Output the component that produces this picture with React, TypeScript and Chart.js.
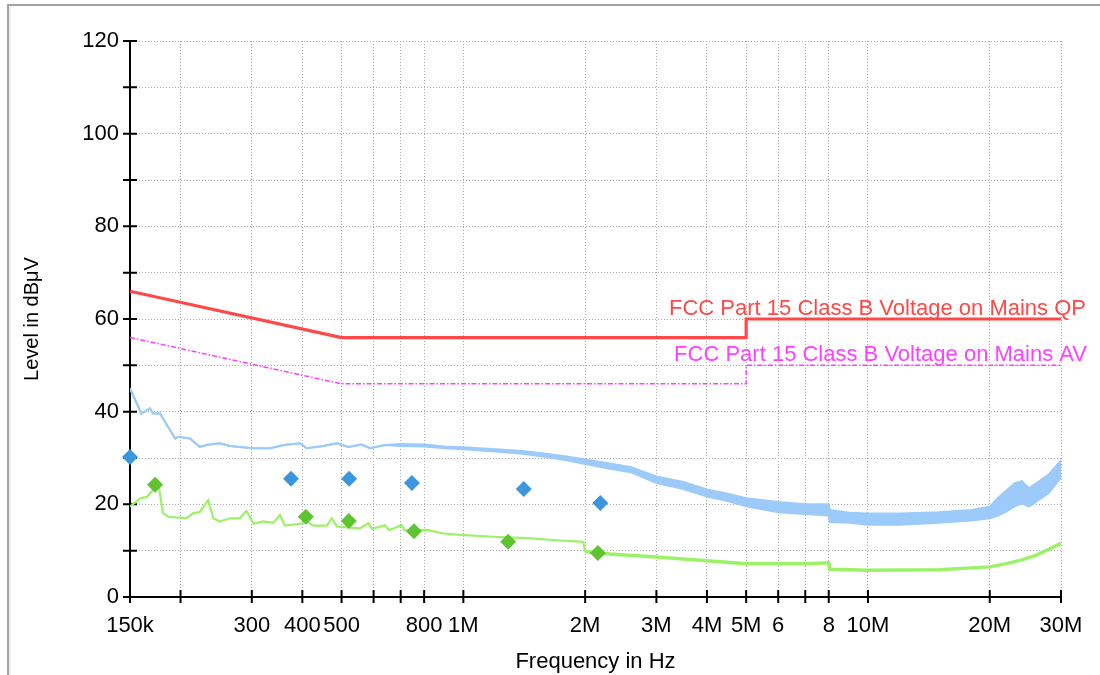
import React, { useEffect, useRef } from "react";
import { Chart, registerables } from "chart.js";

Chart.register(...registerables);

// ---------- axis ticks ----------
const xTickValues = [150e3, 200e3, 300e3, 400e3, 500e3, 600e3, 700e3, 800e3, 1e6, 2e6, 3e6, 4e6, 5e6, 6e6, 7e6, 8e6, 10e6, 20e6, 30e6];
const xTickLabels = ["150k", "", "300", "400", "500", "", "", "800", "1M", "2M", "3M", "4M", "5M", "6", "", "8", "10M", "20M", "30M"];
const yTickValues = [0, 10, 20, 30, 40, 50, 60, 70, 80, 90, 100, 110, 120];
const yTickLabels = ["0", "", "20", "", "40", "", "60", "", "80", "", "100", "", "120"];

// ---------- limit lines ----------
const qpLimitName = "FCC Part 15 Class B Voltage on Mains QP";
const qpLimitFreq = [150e3, 500e3, 5e6, 5e6, 30e6];
const qpLimitLevel = [66, 56, 56, 60, 60];
const avLimitName = "FCC Part 15 Class B Voltage on Mains AV";
const avLimitFreq = [150e3, 500e3, 5e6, 5e6, 30e6];
const avLimitLevel = [56, 46, 46, 50, 50];

// ---------- peak trace (blue), upper / lower envelope ----------
const peakFreq = [150e3, 160e3, 168e3, 171e3, 178e3, 183e3, 194e3, 197e3, 211e3, 223e3, 232e3, 250e3, 265e3, 280e3, 303e3, 333e3, 360e3, 395e3, 410e3, 450e3, 487e3, 520e3, 560e3, 588e3, 640e3, 700e3, 800e3, 900e3, 1e6, 1.2e6, 1.4e6, 1.6e6, 1.8e6, 2.0e6, 2.3e6, 2.6e6, 3e6, 3.5e6, 4e6, 4.5e6, 5e6, 6e6, 7e6, 8e6, 8.05e6, 9e6, 10e6, 12e6, 15e6, 18e6, 20e6, 21e6, 22e6, 23e6, 24e6, 25e6, 26e6, 28e6, 30e6];
const peakHi = [45.0, 39.6, 40.7, 39.6, 39.6, 37.8, 34.2, 34.6, 34.2, 32.4, 32.8, 33.2, 32.6, 32.4, 32.1, 32.1, 32.8, 33.2, 32.1, 32.6, 33.2, 32.4, 32.9, 32.1, 32.8, 33.0, 32.9, 32.5, 32.3, 31.9, 31.5, 30.9, 30.3, 29.7, 28.8, 28.0, 26.0, 24.8, 23.2, 22.3, 21.3, 20.5, 20.0, 20.0, 18.8, 18.2, 18.0, 18.0, 18.3, 18.8, 19.5, 21.5, 23.0, 24.5, 25.0, 23.5, 24.5, 26.5, 29.5];
const peakLo = [45.0, 39.6, 40.7, 39.6, 39.6, 37.8, 34.2, 34.6, 34.2, 32.4, 32.8, 33.2, 32.6, 32.4, 32.1, 32.1, 32.8, 33.2, 32.1, 32.6, 33.2, 32.4, 32.9, 32.1, 32.8, 32.6, 32.5, 32.1, 31.9, 31.4, 30.9, 30.2, 29.5, 28.7, 27.7, 26.9, 24.6, 23.3, 21.7, 20.7, 19.6, 18.3, 17.9, 17.6, 16.2, 16.0, 15.6, 15.6, 16.0, 16.5, 17.0, 17.6, 18.5, 19.5, 20.2, 19.5, 20.5, 22.5, 25.8];

// ---------- average trace (green) ----------
const avgFreq = [150e3, 159e3, 165e3, 171e3, 176e3, 181e3, 187e3, 207e3, 215e3, 223e3, 234e3, 241e3, 250e3, 265e3, 280e3, 291e3, 303e3, 320e3, 339e3, 352e3, 362e3, 395e3, 410e3, 426e3, 460e3, 473e3, 487e3, 535e3, 555e3, 582e3, 595e3, 640e3, 655e3, 704e3, 715e3, 812e3, 892e3, 981e3, 1.186e6, 1.434e6, 1.733e6, 1.98e6, 2.0e6, 2.3e6, 3.06e6, 4e6, 5e6, 6e6, 7e6, 8e6, 8.05e6, 10e6, 15e6, 20e6, 22e6, 24e6, 26e6, 28e6, 30e6];
const avgLevel = [19.5, 21.3, 21.6, 23.1, 24.9, 18.1, 17.3, 17.0, 18.1, 18.3, 20.9, 17.0, 16.3, 17.0, 17.0, 18.6, 15.8, 16.3, 16.0, 17.7, 15.4, 15.8, 16.3, 15.4, 15.4, 17.0, 15.2, 14.9, 14.8, 15.9, 14.7, 15.5, 14.4, 15.5, 14.4, 14.5, 13.7, 13.4, 13.0, 12.7, 12.2, 11.9, 9.8, 9.3, 8.6, 7.8, 7.2, 7.2, 7.2, 7.4, 6.0, 5.8, 5.9, 6.5, 7.2, 8.0, 9.0, 10.3, 11.6];

// ---------- final measurement markers ----------
const qpMarkFreq = [150e3, 375e3, 522e3, 746e3, 1.41e6, 2.18e6];
const qpMarkLevel = [30.2, 25.5, 25.5, 24.6, 23.3, 20.3];
const avMarkFreq = [173e3, 408e3, 521e3, 755e3, 1.29e6, 2.15e6];
const avMarkLevel = [24.2, 17.3, 16.4, 14.2, 11.9, 9.5];

const FONT = "'Liberation Sans', Arial, Helvetica, sans-serif";

const pts = (xs: number[], ys: number[]) => xs.map((x, i) => ({ x, y: ys[i] }));

const emcPlugin = {
  id: "emcAxes",
  beforeDatasetsDraw(chart: any) {
    const { ctx, chartArea: a, scales } = chart;
    const x = scales.x;
    const y = scales.y;
    ctx.save();
    ctx.strokeStyle = "#000";
    ctx.lineWidth = 2;
    ctx.beginPath();
    ctx.moveTo(a.left, a.top);
    ctx.lineTo(a.left, a.bottom);
    ctx.lineTo(a.right, a.bottom);
    y.ticks.forEach((t: any) => {
      const py = y.getPixelForValue(t.value);
      ctx.moveTo(a.left - 7, py);
      ctx.lineTo(a.left + 7, py);
    });
    x.ticks.forEach((t: any) => {
      const px = x.getPixelForValue(t.value);
      ctx.moveTo(px, a.bottom - 7);
      ctx.lineTo(px, a.bottom + 6);
    });
    ctx.stroke();
    ctx.restore();
  },
  afterDatasetsDraw(chart: any) {
    const { ctx, scales } = chart;
    const y = scales.y;
    ctx.save();
    ctx.font = `22px ${FONT}`;
    ctx.textAlign = "right";
    ctx.textBaseline = "alphabetic";
    ctx.fillStyle = "rgb(255,72,72)";
    ctx.fillText(qpLimitName, 1086, y.getPixelForValue(qpLimitLevel[qpLimitLevel.length - 1]) - 4);
    ctx.fillStyle = "rgb(255,64,255)";
    ctx.fillText(avLimitName, 1087, y.getPixelForValue(avLimitLevel[avLimitLevel.length - 1]) - 4);
    ctx.restore();
  },
};

export default function App() {
  const ref = useRef<HTMLCanvasElement | null>(null);

  useEffect(() => {
    if (!ref.current) return;
    Chart.defaults.font.family = FONT;
    const chart = new Chart(ref.current, {
      type: "scatter",
      data: {
        datasets: [
          {
            label: "QP marks",
            data: pts(qpMarkFreq, qpMarkLevel),
            pointStyle: "rectRot",
            pointRadius: 8,
            pointBackgroundColor: "#3b97dd",
            pointBorderWidth: 0,
            showLine: false,
            clip: false,
            order: 0,
          } as any,
          {
            label: "AV marks",
            data: pts(avMarkFreq, avMarkLevel),
            pointStyle: "rectRot",
            pointRadius: 8,
            pointBackgroundColor: "#5ec432",
            pointBorderWidth: 0,
            showLine: false,
            clip: false,
            order: 0,
          } as any,
          {
            label: qpLimitName,
            data: pts(qpLimitFreq, qpLimitLevel),
            showLine: true,
            borderColor: "rgb(255,72,72)",
            borderWidth: 3.2,
            pointRadius: 0,
            tension: 0,
            order: 1,
          },
          {
            label: avLimitName,
            data: pts(avLimitFreq, avLimitLevel),
            showLine: true,
            borderColor: "rgb(255,64,255)",
            borderWidth: 1.5,
            borderDash: [5, 2, 1.5, 2],
            pointRadius: 0,
            tension: 0,
            order: 1,
          },
          {
            label: "Average",
            data: pts(avgFreq, avgLevel),
            showLine: true,
            borderColor: "#9cf266",
            borderWidth: 2.2,
            segment: {
              borderWidth: (c: any) => (c.p0.parsed.x >= 2e6 ? 3.5 : 2.2),
            },
            pointRadius: 0,
            tension: 0,
            order: 2,
          } as any,
          {
            label: "Peak hi",
            data: pts(peakFreq, peakHi),
            showLine: true,
            borderColor: "#9ccbfb",
            borderWidth: 2,
            pointRadius: 0,
            tension: 0,
            order: 3,
          },
          {
            label: "Peak lo",
            data: pts(peakFreq, peakLo),
            showLine: true,
            borderColor: "#9ccbfb",
            backgroundColor: "#9ccbfb",
            borderWidth: 2,
            pointRadius: 0,
            tension: 0,
            fill: "-1",
            order: 3,
          },
        ],
      },
      options: {
        responsive: false,
        animation: false,
        devicePixelRatio: 1,
        layout: { padding: { left: 0, top: 41, right: 39, bottom: 0 } },
        plugins: {
          legend: { display: false },
          tooltip: { enabled: false },
        },
        events: [],
        scales: {
          x: {
            type: "logarithmic",
            min: 150e3,
            max: 30e6,
            afterBuildTicks: (s: any) => {
              s.ticks = xTickValues.map((v) => ({ value: v }));
            },
            afterFit: (s: any) => {
              s.height = 78;
            },
            ticks: {
              autoSkip: false,
              maxRotation: 0,
              minRotation: 0,
              padding: 16,
              color: "#000",
              font: { size: 22 },
              callback: (_v: any, i: number) => xTickLabels[i],
            },
            grid: {
              color: "#a9a9a9",
              lineWidth: 1,
              drawTicks: false,
            },
            border: { display: false, dash: [1, 2] },
            title: {
              display: true,
              text: "Frequency in Hz",
              color: "#000",
              font: { size: 22 },
              padding: { top: 0, bottom: 0 },
            },
          },
          y: {
            type: "linear",
            min: 0,
            max: 120,
            afterBuildTicks: (s: any) => {
              s.ticks = yTickValues.map((v) => ({ value: v }));
            },
            afterFit: (s: any) => {
              s.width = 130;
            },
            ticks: {
              padding: 11,
              color: "#000",
              font: { size: 22 },
              callback: (_v: any, i: number) => yTickLabels[i],
            },
            grid: {
              color: "#a9a9a9",
              lineWidth: 1,
              drawTicks: false,
            },
            border: { display: false, dash: [1, 2] },
            title: {
              display: true,
              text: "Level in dBμV",
              color: "#000",
              font: { size: 20 },
              padding: { top: 20, bottom: 0 },
            },
          },
        },
      },
      plugins: [emcPlugin],
    } as any);
    return () => chart.destroy();
  }, []);

  return (
    <div style={{ position: "absolute", left: 0, top: 0, width: 1100, height: 675, overflow: "hidden", background: "#fff" }}>
      <div
        style={{
          position: "absolute",
          left: 7,
          top: 4,
          width: 1300,
          height: 900,
          borderTop: "2px solid #a3a3a3",
          borderLeft: "2px solid #a3a3a3",
          boxShadow: "inset 2px 0 0 #ececec",
        }}
      />
      <canvas ref={ref} width={1100} height={675} style={{ position: "absolute", left: 0, top: 0, width: 1100, height: 675 }} />
    </div>
  );
}
